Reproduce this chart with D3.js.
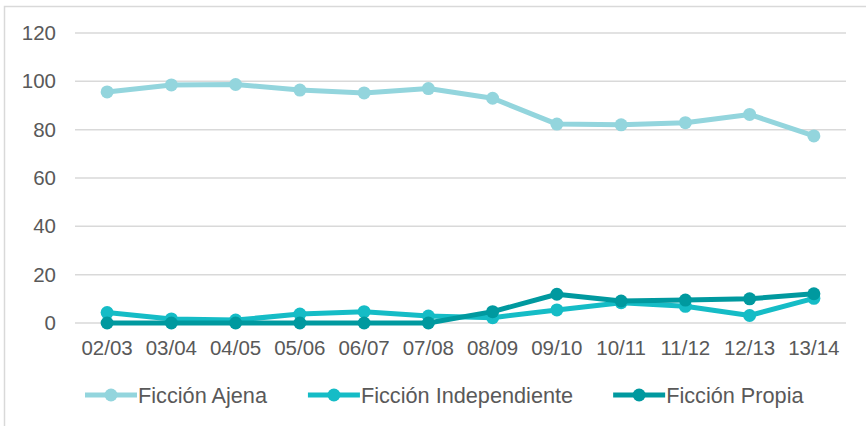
<!DOCTYPE html>
<html>
<head>
<meta charset="utf-8">
<script src="https://cdn.jsdelivr.net/npm/d3@7"></script>
<style>
  body { margin: 0; background: #fff; }
  text { font-family: "Liberation Sans", Arial, sans-serif; fill: #595959; }
</style>
</head>
<body>
<div id="chart"></div>
<script>
var seasons = ["02/03", "03/04", "04/05", "05/06", "06/07", "07/08", "08/09", "09/10", "10/11", "11/12", "12/13", "13/14"];
var ajena = [95.6, 98.5, 98.7, 96.4, 95.2, 97.0, 93.0, 82.3, 82.0, 82.9, 86.3, 77.4];
var independiente = [4.3, 1.7, 1.2, 3.7, 4.7, 2.9, 2.2, 5.4, 8.4, 6.9, 3.1, 10.2];
var propia = [0, 0, 0, 0, 0, 0, 4.7, 11.9, 9.1, 9.5, 10.0, 12.1];
var yTicks = [0, 20, 40, 60, 80, 100, 120];

var seriesNames = ["Ficción Ajena", "Ficción Independiente", "Ficción Propia"];
var seriesValues = [ajena, independiente, propia];
var colors = ["#93d5dd", "#15bcc6", "#00999f"];

var W = 866, H = 426;
var margin = {top: 33, right: 20, bottom: 103, left: 75},
    width = W - margin.left - margin.right,
    height = H - margin.top - margin.bottom;

var svg = d3.select("#chart").append("svg")
    .attr("width", W)
    .attr("height", H);

// chart frame
svg.append("rect")
    .attr("x", 4.5).attr("y", 6.5)
    .attr("width", W + 20).attr("height", H + 20)
    .attr("fill", "none")
    .attr("stroke", "#d9d9d9")
    .attr("stroke-width", 1.5);

var g = svg.append("g")
    .attr("transform", "translate(" + margin.left + "," + margin.top + ")");

var x = d3.scaleBand().domain(seasons).range([0, width]),
    y = d3.scaleLinear().domain([0, 120]).range([height, 0]);

// gridlines
g.selectAll(".grid")
  .data(yTicks)
  .enter().append("line")
    .attr("class", "grid")
    .attr("x1", 0).attr("x2", width)
    .attr("y1", function(d) { return y(d); })
    .attr("y2", function(d) { return y(d); })
    .attr("stroke", "#d9d9d9")
    .attr("stroke-width", 1.5);

var yAxis = g.append("g")
    .call(d3.axisLeft(y).tickValues(yTicks).tickSize(0).tickPadding(19));
yAxis.select(".domain").remove();
yAxis.selectAll("text").style("font-size", "20.5px").attr("fill", "#595959");

var xAxis = g.append("g")
    .attr("transform", "translate(0," + height + ")")
    .call(d3.axisBottom(x).tickSize(0).tickPadding(17));
xAxis.select(".domain").remove();
xAxis.selectAll("text").style("font-size", "20.5px").attr("fill", "#595959");

var line = d3.line()
    .x(function(d, i) { return x(seasons[i]) + x.bandwidth() / 2; })
    .y(function(d) { return y(d); });

seriesValues.forEach(function(vals, s) {
  var sg = g.append("g");
  sg.append("path")
      .datum(vals)
      .attr("d", line)
      .attr("fill", "none")
      .attr("stroke", colors[s])
      .attr("stroke-width", 5)
      .attr("stroke-linejoin", "round");
  sg.selectAll("circle")
    .data(vals)
    .enter().append("circle")
      .attr("cx", function(d, i) { return x(seasons[i]) + x.bandwidth() / 2; })
      .attr("cy", function(d) { return y(d); })
      .attr("r", 6.5)
      .attr("fill", colors[s]);
});

// legend
var legend = svg.append("g").attr("transform", "translate(0,395)");
var items = legend.selectAll(".item")
  .data(seriesNames)
  .enter().append("g")
    .attr("class", "item");
items.append("line")
    .attr("x1", 0).attr("x2", 52)
    .attr("stroke", function(d, i) { return colors[i]; })
    .attr("stroke-width", 5);
items.append("circle")
    .attr("cx", 26).attr("r", 6.5)
    .attr("fill", function(d, i) { return colors[i]; });
items.append("text")
    .attr("x", 53)
    .attr("dy", "0.35em")
    .style("font-size", "21.7px")
    .text(function(d) { return d; });

var gap = 40, widths = [];
items.each(function() { widths.push(this.getBBox().width); });
var cx = 85;
items.attr("transform", function(d, i) {
  var t = "translate(" + cx + ",0)";
  cx += widths[i] + gap;
  return t;
});
</script>
</body>
</html>
